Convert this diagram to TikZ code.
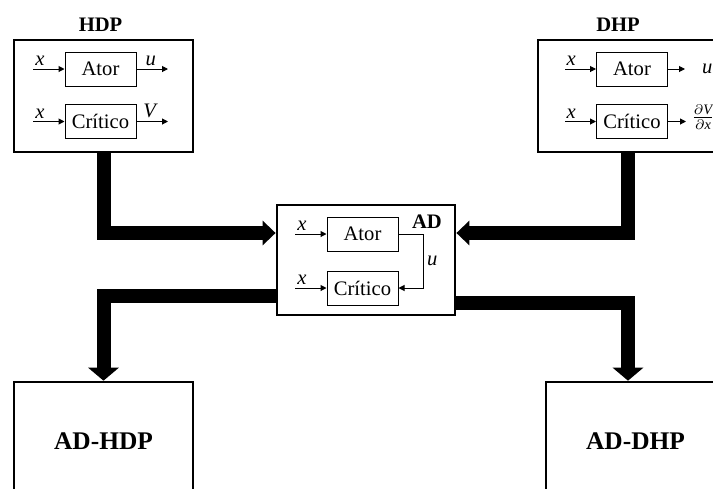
\documentclass[tikz,border=0pt]{standalone}
\usepackage{amsmath}
\usepackage{fontspec}
\setmainfont{Liberation Serif}
\usetikzlibrary{arrows.meta}

\begin{document}
\begin{tikzpicture}[
  x=0.5pt, y=-0.5pt,
  font=\fontsize{10.3}{12}\selectfont,
  outer/.style={rectangle, draw, line width=1.4pt, minimum width=89.5pt, minimum height=56pt, inner sep=0pt},
  blk/.style={rectangle, draw, line width=0.5pt, minimum width=35.5pt, minimum height=17pt, inner sep=0pt},
  ttl/.style={font=\fontsize{10.3}{12}\selectfont\bfseries},
  bigttl/.style={font=\fontsize{12.7}{15}\selectfont\bfseries},
  sarr/.style={-{Triangle[length=3pt,width=3pt]}, line width=0.5pt},
  lbl/.style={inner sep=1.5pt},
  bigarr/.style={line width=7pt, -{Triangle[length=6.5pt,width=#1]}},
  bigarr/.default=12pt,
]
\useasboundingbox (0,0) rectangle (713,488);
\clip (0,0) rectangle (713,488);

% ---- HDP ----
\node[outer] (hdp) at (103.5,96) {};
\node[ttl] (hdpt) at (100.5,25) {HDP};
\node[blk] (hator) at (100.5,69) {Ator};
\node[blk] (hcrit) at (100.5,121.5) {Crítico};
\coordinate (hxa) at (33,69);
\coordinate (hxc) at (33,121.5);
\coordinate (hu) at (168,69);
\coordinate (hv) at (168,121.5);
\draw[sarr] (hxa) -- node[lbl, above, pos=0.22] {\textit{x}} (hator);
\draw[sarr] (hxc) -- node[lbl, above, pos=0.22] {\textit{x}} (hcrit);
\draw[sarr] (hator) -- node[lbl, above, pos=0.45] {\textit{u}} (hu);
\draw[sarr] (hcrit) -- node[lbl, above, pos=0.45] {\textit{V}} (hv);

% ---- DHP ----
\node[outer] (dhp) at (627.5,96) {};
\node[ttl] (dhpt) at (618,25) {DHP};
\node[blk] (dator) at (632,69) {Ator};
\node[blk] (dcrit) at (632,121.5) {Crítico};
\coordinate (dxa) at (565,69);
\coordinate (dxc) at (565,121.5);
\coordinate (du) at (685,69);
\coordinate (ddv) at (686,121.5);
\draw[sarr] (dxa) -- node[lbl, above, pos=0.2] {\textit{x}} (dator);
\draw[sarr] (dxc) -- node[lbl, above, pos=0.2] {\textit{x}} (dcrit);
\draw[sarr] (du -| dator.east) -- (du) node[right=5pt] {\textit{u}};
\draw[sarr] (ddv -| dcrit.east) -- (ddv) node[right=0pt, inner sep=2.5pt, yshift=2pt] {$\frac{\partial\textit{V}}{\partial\textit{x}}$};

% ---- AD ----
\node[outer, minimum width=89pt, minimum height=55pt] (ad) at (366,260) {};
\node[ttl] (adt) at (427,222) {AD};
\node[blk] (aator) at (362.5,234) {Ator};
\node[blk] (acrit) at (362.5,288) {Crítico};
\coordinate (axa) at (295,234);
\coordinate (axc) at (295,288);
\draw[sarr] (axa) -- node[lbl, above, pos=0.22] {\textit{x}} (aator);
\draw[sarr] (axc) -- node[lbl, above, pos=0.22] {\textit{x}} (acrit);
\draw[sarr] (aator.east) -- ++(25,0) |- node[lbl, right, pos=0.25] {\textit{u}} (acrit.east);

% ---- AD-HDP / AD-DHP ----
\node[outer, line width=1.3pt, minimum height=59pt, bigttl] (adhdp) at (103.5,441) {AD-HDP};
\node[outer, line width=1.3pt, minimum height=59pt, bigttl] (addhp) at (635.5,441) {AD-DHP};

% ---- thick arrows ----
\draw[bigarr] (hdp.south) |- ([yshift=13.5pt]ad.west);
\draw[bigarr] (dhp.south) |- ([yshift=13.5pt]ad.east);
\draw[bigarr=15pt] ([yshift=-17.75pt]ad.west) -| (adhdp.north);
\draw[bigarr=15pt] ([yshift=-21.5pt]ad.east) -| ([xshift=-3.75pt]addhp.north);

\end{tikzpicture}
\end{document}
